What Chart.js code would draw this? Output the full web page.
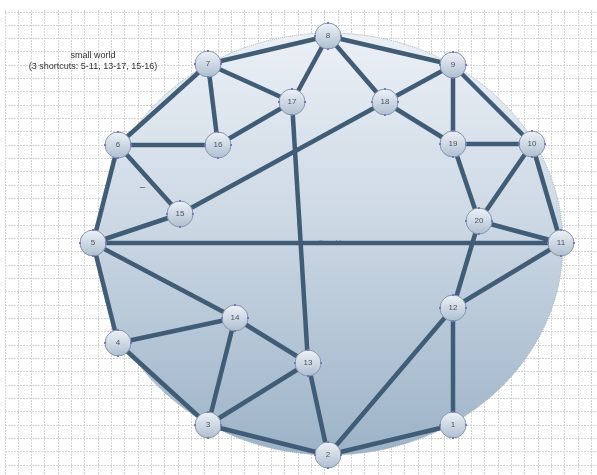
<!DOCTYPE html>
<html>
<head>
<meta charset="utf-8">
<script src="https://cdn.jsdelivr.net/npm/chart.js@4"></script>
<style>
  html, body { margin: 0; padding: 0; background: #fff; }
  #wrap { width: 597px; height: 475px; position: relative; }
</style>
</head>
<body>
<div id="wrap"><canvas id="graph"></canvas></div>
<script>
// node labels and positions (x right, y down)
const nodeLabels = ["1", "2", "3", "4", "5", "6", "7", "8", "9", "10",
                    "11", "12", "13", "14", "15", "16", "17", "18", "19", "20"];
const nodeX = [453, 328, 208, 118, 93, 118, 208, 328, 453, 532,
               561, 453, 308, 235, 180, 218, 292, 385, 453, 479];
const nodeY = [425, 455, 425, 343, 243, 145, 64, 36, 65, 144,
               243, 308, 363, 318, 214, 145, 102, 102, 144, 221];

// edges as pairs of node labels
const edges = [
  [8, 7], [8, 9], [8, 17], [8, 18],
  [7, 17], [7, 16], [7, 6],
  [17, 16], [17, 13],
  [18, 9], [18, 19], [18, 15],
  [9, 19], [9, 10],
  [19, 10], [19, 20],
  [10, 20], [10, 11],
  [20, 11], [20, 12],
  [11, 12], [11, 5],
  [6, 16], [6, 15], [6, 5],
  [15, 5],
  [5, 4], [5, 14],
  [14, 4], [14, 3], [14, 13],
  [4, 3],
  [13, 3], [13, 2],
  [3, 2],
  [2, 12], [2, 1],
  [1, 12]
];

const titleLines = ["small world", "(3 shortcuts: 5-11, 13-17, 15-16)"];

const edgeColor = '#3f5d77';

// node glyph
function makeNode() {
  const c = document.createElement('canvas');
  c.width = 34; c.height = 34;
  const g = c.getContext('2d');
  const r = 13;
  const grad = g.createLinearGradient(0, 4, 0, 30);
  grad.addColorStop(0, '#eef2f7');
  grad.addColorStop(1, '#aebfd0');
  g.beginPath();
  g.arc(17, 17, r, 0, Math.PI * 2);
  g.fillStyle = grad;
  g.fill();
  g.lineWidth = 1;
  g.strokeStyle = '#8797ab';
  g.stroke();
  g.fillStyle = '#7b74d6';
  [[17, 4], [30, 17], [17, 30], [4, 17]].forEach(p => {
    g.fillRect(p[0] - 1, p[1] - 1, 2, 2);
  });
  return c;
}
const nodeImg = makeNode();

// background ellipse + texts
const decor = {
  id: 'decor',
  beforeDatasetsDraw(chart) {
    const { ctx, scales: { x, y } } = chart;
    const cx = x.getPixelForValue(330), cy = y.getPixelForValue(244);
    const rx = x.getPixelForValue(563) - cx, ry = y.getPixelForValue(455) - cy;
    ctx.save();
    const grad = ctx.createLinearGradient(0, cy - ry, 0, cy + ry);
    grad.addColorStop(0, '#ebf0f5');
    grad.addColorStop(0.45, '#ccd8e4');
    grad.addColorStop(1, '#9cb3c7');
    ctx.beginPath();
    ctx.ellipse(cx, cy, rx, ry, 0, 0, Math.PI * 2);
    ctx.fillStyle = grad;
    ctx.fill();
    ctx.setLineDash([1, 1]);
    ctx.strokeStyle = '#a4aeb8';
    ctx.lineWidth = 1;
    ctx.stroke();
    ctx.setLineDash([]);
    ctx.fillStyle = '#6f7b86';
    ctx.font = '7px "Liberation Sans", Arial, sans-serif';
    ctx.textBaseline = 'middle';
    ctx.fillText('small world', x.getPixelForValue(306), y.getPixelForValue(243));
    ctx.fillStyle = '#444';
    ctx.font = '9px "Liberation Sans", Arial, sans-serif';
    ctx.fillText('_', x.getPixelForValue(140), y.getPixelForValue(184));
    ctx.restore();
  },
  afterDatasetsDraw(chart) {
    const { ctx, scales: { x, y } } = chart;
    const meta = chart.getDatasetMeta(0);
    ctx.save();
    ctx.textAlign = 'center';
    ctx.textBaseline = 'middle';
    ctx.font = '8px "Liberation Sans", Arial, sans-serif';
    ctx.fillStyle = '#4c5560';
    meta.data.forEach((pt, i) => ctx.fillText(nodeLabels[i], pt.x, pt.y));
    ctx.font = '9px "Liberation Sans", Arial, sans-serif';
    ctx.fillStyle = '#333';
    titleLines.forEach((t, i) => ctx.fillText(t, x.getPixelForValue(93), y.getPixelForValue(56 + i * 11)));
    ctx.restore();
  }
};

const nodeData = nodeLabels.map((l, i) => ({ x: nodeX[i], y: nodeY[i] }));
const edgeSets = edges.map(e => ({
  data: [nodeData[e[0] - 1], nodeData[e[1] - 1]],
  showLine: true,
  borderColor: edgeColor,
  borderWidth: 4.5,
  pointRadius: 0,
  order: 1
}));

const gridStart = 5, gridStep = 13.33;
const gridX = [], gridY = [];
for (let v = gridStart; v <= 597; v += gridStep) gridX.push(v);
for (let v = 12; v <= 475; v += gridStep) gridY.push(v);

const gridOpts = { color: '#d4d4d4', lineWidth: 1, drawTicks: false };

new Chart(document.getElementById('graph'), {
  type: 'scatter',
  data: {
    datasets: [{
      data: nodeData,
      pointStyle: nodeImg,
      pointRadius: 13,
      order: 0
    }, ...edgeSets]
  },
  options: {
    responsive: true,
    maintainAspectRatio: false,
    animation: false,
    events: [],
    layout: { autoPadding: false, padding: { top: 10, left: 5, right: 0, bottom: 0 } },
    plugins: { legend: { display: false }, tooltip: { enabled: false } },
    scales: {
      x: {
        type: 'linear', min: 5, max: 597,
        ticks: { display: false },
        afterBuildTicks: s => { s.ticks = gridX.map(v => ({ value: v })); },
        grid: gridOpts,
        border: { display: false, dash: [2, 1] }
      },
      y: {
        type: 'linear', min: 10, max: 475, reverse: true,
        ticks: { display: false },
        afterBuildTicks: s => { s.ticks = gridY.map(v => ({ value: v })); },
        grid: gridOpts,
        border: { display: false, dash: [2, 1] }
      }
    }
  },
  plugins: [decor]
});
</script>
</body>
</html>
